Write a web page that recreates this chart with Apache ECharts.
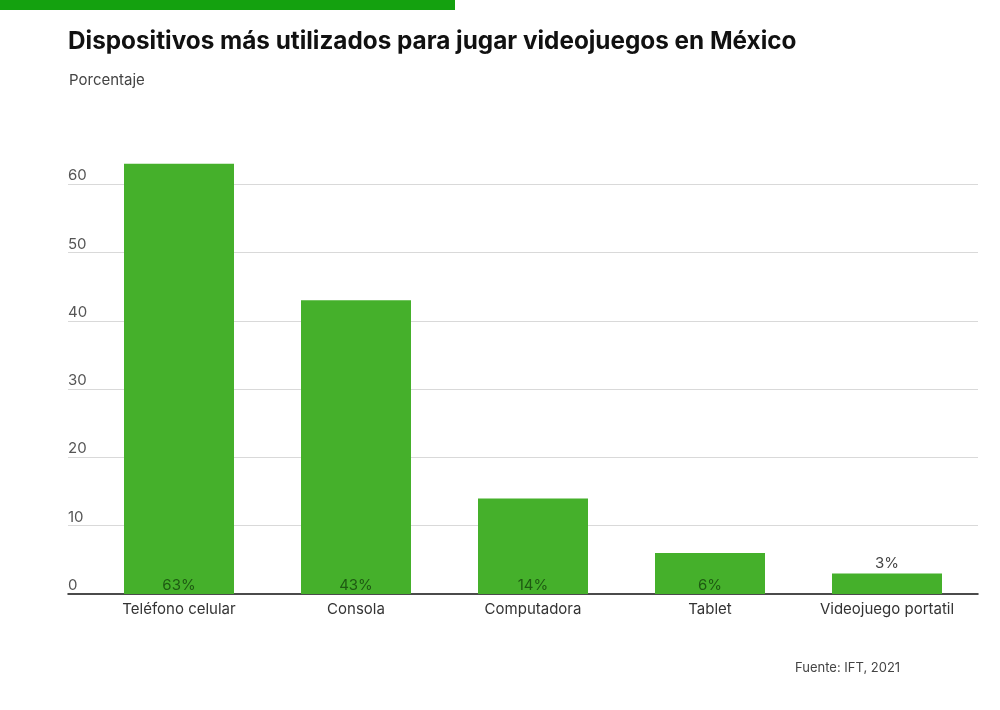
<!DOCTYPE html>
<html>
<head>
<meta charset="utf-8">
<script src="https://cdn.jsdelivr.net/npm/echarts@6/dist/echarts.min.js"></script>
<style>
html,body{margin:0;padding:0;background:#fff;}
#c{width:1000px;height:710px;}
</style>
</head>
<body>
<div id="c"></div>
<script>
const categories = ['Teléfono celular', 'Consola', 'Computadora', 'Tablet', 'Videojuego portatil'];
const values = [63, 43, 14, 6, 3];
const valueLabels = ['63%', '43%', '14%', '6%', '3%'];
const labelOutside = [false, false, false, false, true];
const yTicks = [0, 10, 20, 30, 40, 50, 60];

const FONT = 'Inter, "Liberation Sans", sans-serif';
const chart = echarts.init(document.getElementById('c'));

const gridTop = 116, gridBottom = 116; // zero line at y=594
chart.setOption({
  backgroundColor: '#ffffff',
  animation: false,
  graphic: [
    { type: 'rect', left: 0, top: 0, shape: { width: 455, height: 10 }, style: { fill: '#14a10f' } },
    { type: 'text', left: 68, top: 30, style: { text: 'Dispositivos más utilizados para jugar videojuegos en México', font: 'bold 24.3px ' + FONT, fill: '#111111' } },
    { type: 'text', left: 69, top: 73, style: { text: 'Porcentaje', font: '15px ' + FONT, fill: '#444444' } },
    { type: 'text', left: 795, top: 662, style: { text: 'Fuente: IFT, 2021', font: '13px ' + FONT, fill: '#444444' } }
  ],
  grid: [
    { left: 68, right: 22, top: gridTop, bottom: gridBottom },
    { left: 90.5, right: 24.5, top: gridTop, bottom: gridBottom }
  ],
  xAxis: [
    { type: 'category', gridIndex: 0, data: categories,
      axisLine: { show: true, lineStyle: { color: '#111111', width: 1.5 } },
      axisTick: { show: false }, axisLabel: { show: false }, splitLine: { show: false } },
    { type: 'category', gridIndex: 1, data: categories,
      axisLine: { show: false }, axisTick: { show: false },
      axisLabel: { color: '#333333', fontSize: 15, fontFamily: FONT, margin: 8 } }
  ],
  yAxis: [
    { type: 'value', gridIndex: 0, min: 0, max: 70, interval: 10,
      axisLine: { show: false }, axisTick: { show: false },
      axisLabel: { inside: true, margin: 0, verticalAlign: 'bottom', padding: [0, 0, 1, 0],
        color: '#555555', fontSize: 15, fontFamily: FONT, showMaxLabel: false,
        formatter: v => yTicks.includes(v) ? String(v) : '' },
      splitLine: { show: true, showMinLine: false, showMaxLine: false, lineStyle: { color: '#d9d9d9', width: 1 } } },
    { type: 'value', gridIndex: 1, min: 0, max: 70, interval: 10, show: false, splitLine: { show: false } }
  ],
  series: [{
    type: 'bar',
    xAxisIndex: 1, yAxisIndex: 1,
    barWidth: 110,
    data: values.map((v, i) => ({
      value: v,
      label: {
        show: true,
        position: labelOutside[i] ? 'top' : 'insideBottom',
        distance: labelOutside[i] ? 3 : 1,
        formatter: valueLabels[i],
        color: labelOutside[i] ? '#444444' : '#1e5a12',
        fontSize: 15,
        fontFamily: FONT
      }
    })),
    itemStyle: { color: '#45b02b' }
  }]
});
</script>
</body>
</html>
